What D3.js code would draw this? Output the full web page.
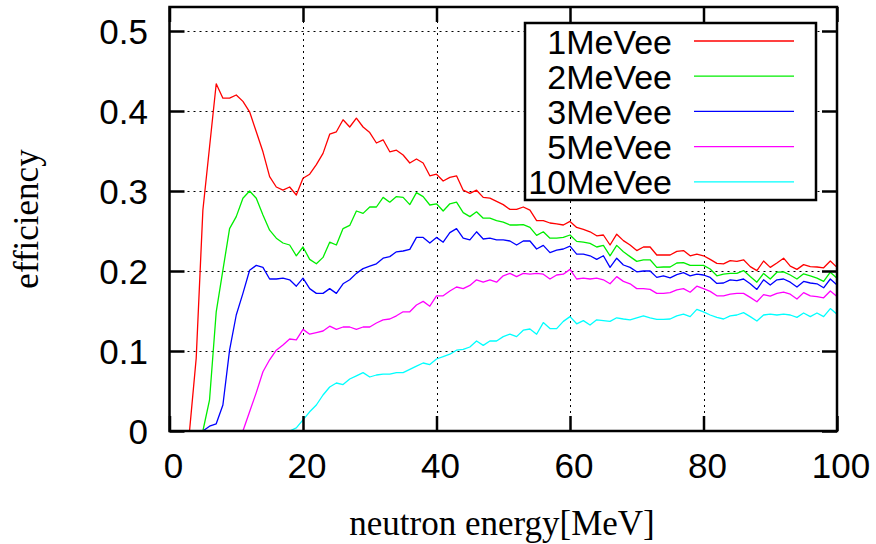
<!DOCTYPE html>
<html>
<head>
<meta charset="utf-8">
<script src="https://cdn.jsdelivr.net/npm/d3@7"></script>
<style>
  html, body { margin: 0; padding: 0; background: #fff; }
  svg { display: block; }
</style>
</head>
<body>
<svg id="chart" width="876" height="544"></svg>
<script>
const energies = [0,1,2,3,4,5,6,7,8,9,10,11,12,13,14,15,16,17,18,19,20,21,22,23,24,25,26,27,28,29,30,31,32,33,34,35,36,37,38,39,40,41,42,43,44,45,46,47,48,49,50,51,52,53,54,55,56,57,58,59,60,61,62,63,64,65,66,67,68,69,70,71,72,73,74,75,76,77,78,79,80,81,82,83,84,85,86,87,88,89,90,91,92,93,94,95,96,97,98,99,100];

const eff1MeVee = [null,null,null,0,0.091,0.276,0.355,0.434,0.416,0.416,0.420,0.412,0.399,0.374,0.349,0.318,0.305,0.301,0.305,0.295,0.316,0.321,0.333,0.347,0.371,0.374,0.389,0.380,0.391,0.380,0.373,0.360,0.364,0.349,0.351,0.345,0.335,0.340,0.335,0.319,0.321,0.3125,0.317,0.319,0.301,0.297,0.301,0.292,0.291,0.287,0.283,0.277,0.277,0.280,0.276,0.263,0.263,0.260,0.259,0.2575,0.262,0.2545,0.252,0.249,0.244,0.245,0.2325,0.246,0.238,0.2325,0.2255,0.230,0.230,0.220,0.220,0.220,0.2245,0.2255,0.219,0.221,0.219,0.2145,0.2095,0.209,0.213,0.212,0.214,0.2055,0.2005,0.2125,0.2045,0.210,0.216,0.206,0.202,0.208,0.2055,0.205,0.204,0.2125,0.2045];

const eff2MeVee = [null,null,null,null,null,0,0.039,0.149,0.201,0.253,0.268,0.291,0.300,0.291,0.270,0.251,0.241,0.235,0.2325,0.219,0.230,0.2145,0.209,0.217,0.236,0.2325,0.253,0.257,0.275,0.272,0.280,0.280,0.292,0.286,0.293,0.292,0.283,0.298,0.293,0.2825,0.284,0.275,0.284,0.286,0.273,0.268,0.274,0.266,0.266,0.263,0.261,0.2575,0.2575,0.258,0.2545,0.2445,0.249,0.241,0.241,0.242,0.245,0.237,0.236,0.2345,0.230,0.232,0.219,0.232,0.224,0.218,0.212,0.214,0.214,0.2045,0.205,0.205,0.210,0.2105,0.207,0.207,0.207,0.2025,0.194,0.196,0.197,0.197,0.2005,0.193,0.186,0.197,0.190,0.1985,0.199,0.195,0.190,0.1965,0.194,0.191,0.187,0.1985,0.191];

const eff3MeVee = [null,null,null,null,null,0,0.006,0.009,0.0325,0.101,0.145,0.172,0.201,0.207,0.2045,0.190,0.190,0.191,0.189,0.181,0.191,0.178,0.172,0.172,0.178,0.172,0.184,0.189,0.197,0.203,0.206,0.209,0.216,0.218,0.224,0.225,0.227,0.242,0.242,0.235,0.242,0.236,0.248,0.253,0.241,0.239,0.249,0.240,0.241,0.239,0.239,0.2375,0.2325,0.2375,0.2375,0.2275,0.232,0.223,0.226,0.2275,0.231,0.221,0.221,0.219,0.2145,0.219,0.2045,0.216,0.2075,0.2045,0.199,0.200,0.200,0.192,0.194,0.1915,0.1955,0.198,0.194,0.196,0.195,0.192,0.1845,0.185,0.189,0.188,0.190,0.184,0.177,0.189,0.1825,0.189,0.190,0.186,0.180,0.187,0.185,0.184,0.179,0.190,0.1825];

const eff5MeVee = [null,null,null,null,null,null,null,null,null,null,null,0,0.024,0.048,0.074,0.089,0.101,0.1075,0.115,0.114,0.127,0.121,0.123,0.125,0.131,0.127,0.130,0.130,0.127,0.130,0.130,0.135,0.139,0.140,0.144,0.149,0.149,0.1575,0.162,0.156,0.169,0.169,0.175,0.180,0.178,0.182,0.189,0.186,0.189,0.186,0.194,0.197,0.193,0.197,0.196,0.197,0.196,0.190,0.195,0.196,0.202,0.190,0.191,0.190,0.191,0.189,0.184,0.193,0.187,0.184,0.178,0.178,0.177,0.172,0.172,0.173,0.1765,0.178,0.1735,0.181,0.178,0.1745,0.169,0.169,0.171,0.172,0.172,0.167,0.1615,0.1705,0.1685,0.172,0.1735,0.171,0.165,0.173,0.169,0.168,0.1665,0.175,0.168];

const eff10MeVee = [null,null,null,null,null,null,null,null,null,null,null,null,null,null,null,null,null,null,0,0.004,0.014,0.024,0.0325,0.045,0.055,0.060,0.058,0.065,0.069,0.073,0.0675,0.070,0.071,0.071,0.073,0.073,0.077,0.081,0.085,0.083,0.090,0.093,0.096,0.101,0.102,0.105,0.1125,0.107,0.1125,0.1125,0.118,0.121,0.118,0.126,0.1275,0.121,0.1355,0.128,0.128,0.137,0.143,0.134,0.138,0.1325,0.139,0.138,0.137,0.1415,0.140,0.139,0.1415,0.144,0.1415,0.1395,0.1395,0.140,0.144,0.146,0.143,0.152,0.149,0.145,0.142,0.140,0.144,0.145,0.148,0.143,0.1375,0.145,0.146,0.145,0.146,0.145,0.142,0.1475,0.143,0.1475,0.143,0.153,0.146];

const seriesNames = ["1MeVee", "2MeVee", "3MeVee", "5MeVee", "10MeVee"];
const seriesColors = ["#ff0000", "#00ee00", "#0000ff", "#ff00ff", "#00ffff"];
const xTicks = [0, 20, 40, 60, 80, 100];
const yTicks = [0, 0.1, 0.2, 0.3, 0.4, 0.5];
const xLabel = "neutron energy[MeV]";
const yLabel = "efficiency";

const seriesValues = [eff1MeVee, eff2MeVee, eff3MeVee, eff5MeVee, eff10MeVee];

const svg = d3.select("#chart");
const L = 169.5, R = 837, T = 7, B = 431;
const x = d3.scaleLinear().domain([0, 100]).range([L, R]);
const y = d3.scaleLinear().domain([0, 0.53]).range([B, T]);
const crisp = v => Math.round(v) + 0.5;

const sans = "'Liberation Sans', Arial, Helvetica, sans-serif";
const serif = "'Liberation Serif', 'Times New Roman', serif";

// grid
const grid = svg.append("g");
grid.selectAll("line.gx").data(xTicks.filter(d => d > 0 && d < 100)).join("line")
  .attr("x1", d => crisp(x(d))).attr("x2", d => crisp(x(d))).attr("y1", B).attr("y2", T)
  .attr("stroke", "#000").attr("stroke-width", 1).attr("stroke-dasharray", "2,4");
grid.selectAll("line.gy").data(yTicks.filter(d => d > 0)).join("line")
  .attr("x1", L).attr("x2", R).attr("y1", d => crisp(y(d))).attr("y2", d => crisp(y(d)))
  .attr("stroke", "#000").attr("stroke-width", 1).attr("stroke-dasharray", "2,4");

// data lines
const line = d3.line()
  .defined(d => d[1] !== null)
  .x(d => x(d[0])).y(d => y(d[1]));
seriesValues.forEach((vals, i) => {
  const pts = energies.map((e, j) => [e, vals[j]]);
  svg.append("path").datum(pts)
    .attr("d", line)
    .attr("fill", "none")
    .attr("stroke", seriesColors[i])
    .attr("stroke-width", 1.3)
    .attr("stroke-linejoin", "round");
});

// axes with inward ticks
const tickLen = 15;
const axB = d3.axisBottom(x).tickValues(xTicks).tickSize(-tickLen).tickFormat("");
const axT = d3.axisTop(x).tickValues(xTicks).tickSize(-tickLen).tickFormat("");
const axLft = d3.axisLeft(y).tickValues(yTicks).tickSize(-tickLen).tickFormat("");
const axRgt = d3.axisRight(y).tickValues(yTicks).tickSize(-tickLen).tickFormat("");
[[axB, `translate(0,${B})`], [axT, `translate(0,${T})`], [axLft, `translate(${L},0)`], [axRgt, `translate(${R},0)`]].forEach(([ax, tr]) => {
  const g = svg.append("g").attr("transform", tr).call(ax);
  g.select(".domain").remove();
  g.selectAll(".tick line").attr("stroke", "#000").attr("stroke-width", 2.5);
});

// frame
svg.append("rect").attr("x", L).attr("y", T).attr("width", R - L).attr("height", B - T)
  .attr("fill", "none").attr("stroke", "#000").attr("stroke-width", 2.5);

// tick labels
svg.append("g").selectAll("text").data(xTicks).join("text")
  .attr("x", d => x(d) + 4).attr("y", 478)
  .attr("text-anchor", "middle")
  .attr("font-family", sans).attr("font-size", 35).attr("fill", "#000")
  .text(d => d3.format("d")(d));
svg.append("g").selectAll("text").data(yTicks).join("text")
  .attr("x", 148).attr("y", d => y(d) + 12.5)
  .attr("text-anchor", "end")
  .attr("font-family", sans).attr("font-size", 35).attr("fill", "#000")
  .text(d => d === 0 ? "0" : d3.format(".1f")(d));

// axis labels
svg.append("text").attr("x", 502).attr("y", 535)
  .attr("text-anchor", "middle").attr("font-family", serif).attr("font-size", 35)
  .attr("fill", "#000").text(xLabel);
svg.append("text").attr("transform", "translate(38,219) rotate(-90)")
  .attr("text-anchor", "middle").attr("font-family", serif).attr("font-size", 35)
  .attr("fill", "#000").text(yLabel);

// legend
const lg = svg.append("g");
lg.append("rect").attr("x", 525).attr("y", 23).attr("width", 291).attr("height", 177)
  .attr("fill", "#fff").attr("stroke", "#000").attr("stroke-width", 2.5);
seriesNames.forEach((name, i) => {
  const cy = 41 + i * 35.2;
  lg.append("text").attr("x", 672).attr("y", cy + 12.5)
    .attr("text-anchor", "end").attr("font-family", sans).attr("font-size", 34)
    .attr("fill", "#000").text(name);
  lg.append("line").attr("x1", 694).attr("x2", 794).attr("y1", cy).attr("y2", cy)
    .attr("stroke", seriesColors[i]).attr("stroke-width", 1.3);
});
</script>
</body>
</html>
